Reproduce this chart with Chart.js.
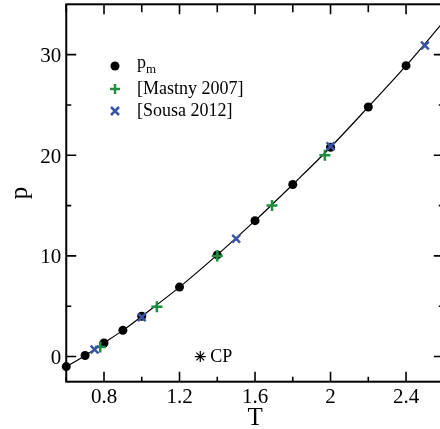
<!DOCTYPE html>
<html>
<head>
<meta charset="utf-8">
<script src="https://cdn.jsdelivr.net/npm/chart.js@4/dist/chart.umd.min.js"></script>
<style>
  html, body { margin: 0; padding: 0; background: #fff; overflow: hidden; }
  #wrap { width: 440px; height: 429px; overflow: hidden; }
</style>
</head>
<body>
<div id="wrap"><canvas id="c" width="446" height="429"></canvas></div>
<script>
// p_m points (black circles)
const pmT = [0.6, 0.7, 0.8, 0.9, 1.0, 1.2, 1.4, 1.6, 1.8, 2.0, 2.2, 2.4];
const pmP = [-1.0, 0.1, 1.35, 2.6, 4.0, 6.9, 10.1, 13.5, 17.1, 20.8, 24.8, 28.9];
// [Mastny 2007]
const mastnyT = [0.78, 1.08, 1.4, 1.69, 1.97];
const mastnyP = [0.95, 4.95, 10.0, 15.0, 20.0];
// [Sousa 2012]
const sousaT = [0.75, 1.0, 1.5, 2.0, 2.5];
const sousaP = [0.7, 3.9, 11.7, 20.9, 30.9];
// fitted curve
const fitT = [0.6, 0.7, 0.8, 0.9, 1.0, 1.2, 1.4, 1.6, 1.8, 2.0, 2.2, 2.4, 2.6];
const fitP = [-1.0, 0.1, 1.35, 2.6, 4.0, 6.9, 10.1, 13.5, 17.1, 20.8, 24.8, 28.9, 33.3];
// critical point
const cpT = [1.31];
const cpP = [0.0];

const xTicks = [0.8, 1.2, 1.6, 2.0, 2.4];
const xMinor = [0.6, 1.0, 1.4, 1.8, 2.2, 2.6];
const yTicks = [0, 10, 20, 30];
const yMinor = [5, 15, 25];

const GREEN = '#1f8e3d';
const BLUE = '#3a55a6';
const SERIF = '"Liberation Serif", "Times New Roman", serif';

const pts = (xs, ys) => xs.map((v, i) => ({ x: v, y: ys[i] }));

const frame = {
  id: 'frame',
  beforeDatasetsDraw(chart) {
    const { ctx, chartArea: a, scales: { x, y } } = chart;
    ctx.save();
    ctx.strokeStyle = '#000';
    ctx.lineWidth = 1.6;
    ctx.beginPath();
    xTicks.forEach(v => {
      const px = x.getPixelForValue(v);
      ctx.moveTo(px, a.bottom); ctx.lineTo(px, a.bottom - 10);
      ctx.moveTo(px, a.top); ctx.lineTo(px, a.top + 10);
    });
    xMinor.forEach(v => {
      const px = x.getPixelForValue(v);
      ctx.moveTo(px, a.bottom); ctx.lineTo(px, a.bottom - 5);
      ctx.moveTo(px, a.top); ctx.lineTo(px, a.top + 8);
    });
    yTicks.forEach(v => {
      const py = y.getPixelForValue(v);
      ctx.moveTo(a.left, py); ctx.lineTo(a.left + 10, py);
      ctx.moveTo(a.right, py); ctx.lineTo(a.right - 10, py);
    });
    yMinor.forEach(v => {
      const py = y.getPixelForValue(v);
      ctx.moveTo(a.left, py); ctx.lineTo(a.left + 5, py);
      ctx.moveTo(a.right, py); ctx.lineTo(a.right - 5, py);
    });
    ctx.stroke();
    ctx.lineWidth = 2;
    ctx.strokeRect(a.left, a.top, a.right - a.left, a.bottom - a.top);

    // tick labels
    ctx.fillStyle = '#000';
    ctx.font = '21px ' + SERIF;
    ctx.textAlign = 'center';
    ctx.textBaseline = 'alphabetic';
    xTicks.forEach(v => {
      ctx.fillText(String(Math.round(v * 10) / 10), x.getPixelForValue(v), a.bottom + 21);
    });
    ctx.textAlign = 'right';
    yTicks.forEach(v => {
      ctx.fillText(String(v), a.left - 5, y.getPixelForValue(v) + 7.5);
    });

    // axis titles
    ctx.textAlign = 'center';
    ctx.font = '25px ' + SERIF;
    ctx.fillText('T', (a.left + a.right) / 2, 425);
    ctx.save();
    ctx.translate(27, (a.top + a.bottom) / 2);
    ctx.rotate(-Math.PI / 2);
    ctx.fillText('p', 0, 0);
    ctx.restore();
    ctx.restore();
  },
  afterDatasetsDraw(chart) {
    const { ctx, scales: { x, y } } = chart;
    ctx.save();
    ctx.fillStyle = '#000';
    ctx.font = '18px ' + SERIF;
    ctx.textBaseline = 'middle';
    ctx.textAlign = 'left';
    ctx.fillText('CP', x.getPixelForValue(cpT[0]) + 10, y.getPixelForValue(cpP[0]) + 1);

    // legend
    const sx = 115, tx = 137;
    const rows = [66, 89, 111];
    ctx.beginPath();
    ctx.arc(sx, rows[0], 4.5, 0, Math.PI * 2);
    ctx.fill();
    ctx.lineWidth = 2.5;
    ctx.strokeStyle = GREEN;
    ctx.beginPath();
    ctx.moveTo(sx - 5, rows[1]); ctx.lineTo(sx + 5, rows[1]);
    ctx.moveTo(sx, rows[1] - 5); ctx.lineTo(sx, rows[1] + 5);
    ctx.stroke();
    ctx.strokeStyle = BLUE;
    ctx.beginPath();
    ctx.moveTo(sx - 4, rows[2] - 4); ctx.lineTo(sx + 4, rows[2] + 4);
    ctx.moveTo(sx - 4, rows[2] + 4); ctx.lineTo(sx + 4, rows[2] - 4);
    ctx.stroke();
    ctx.fillStyle = '#000';
    ctx.font = '18px ' + SERIF;
    ctx.fillText('p', tx, rows[0] - 3);
    ctx.font = '13px ' + SERIF;
    ctx.fillText('m', tx + 9, rows[0] + 4);
    ctx.font = '18px ' + SERIF;
    ctx.fillText('[Mastny 2007]', tx, rows[1]);
    ctx.fillText('[Sousa 2012]', tx, rows[2]);
    ctx.restore();
  }
};

new Chart(document.getElementById('c'), {
  type: 'scatter',
  data: {
    datasets: [
      {
        type: 'line', label: 'fit', data: pts(fitT, fitP),
        borderColor: '#000', borderWidth: 1.2, pointRadius: 0,
        cubicInterpolationMode: 'monotone', fill: false, order: 5, clip: false
      },
      {
        label: 'pm', data: pts(pmT, pmP), pointStyle: 'circle',
        pointRadius: 4.5, backgroundColor: '#000', borderColor: '#000', borderWidth: 0, order: 4, clip: false
      },
      {
        label: '[Mastny 2007]', data: pts(mastnyT, mastnyP), pointStyle: 'cross',
        pointRadius: 5.5, borderColor: GREEN, borderWidth: 2.5, order: 3, clip: false
      },
      {
        label: '[Sousa 2012]', data: pts(sousaT, sousaP), pointStyle: 'crossRot',
        pointRadius: 5.5, borderColor: BLUE, borderWidth: 2.5, order: 2, clip: false
      },
      {
        label: 'CP', data: pts(cpT, cpP), pointStyle: 'star',
        pointRadius: 5.5, borderColor: '#000', borderWidth: 1.2, order: 1, clip: false
      }
    ]
  },
  options: {
    responsive: false,
    animation: false,
    events: [],
    layout: { autoPadding: false, padding: { left: 0, right: 2.2, top: 4.3, bottom: 0 } },
    plugins: { legend: { display: false }, tooltip: { enabled: false } },
    scales: {
      x: {
        type: 'linear', min: 0.6, max: 2.6,
        afterFit: s => { s.height = 47.3; },
        grid: { display: false, drawTicks: false },
        border: { display: false },
        ticks: { display: false }
      },
      y: {
        type: 'linear', min: -2.5, max: 35,
        afterFit: s => { s.width = 66.25; },
        grid: { display: false, drawTicks: false },
        border: { display: false },
        ticks: { display: false }
      }
    }
  },
  plugins: [frame]
});
</script>
</body>
</html>
